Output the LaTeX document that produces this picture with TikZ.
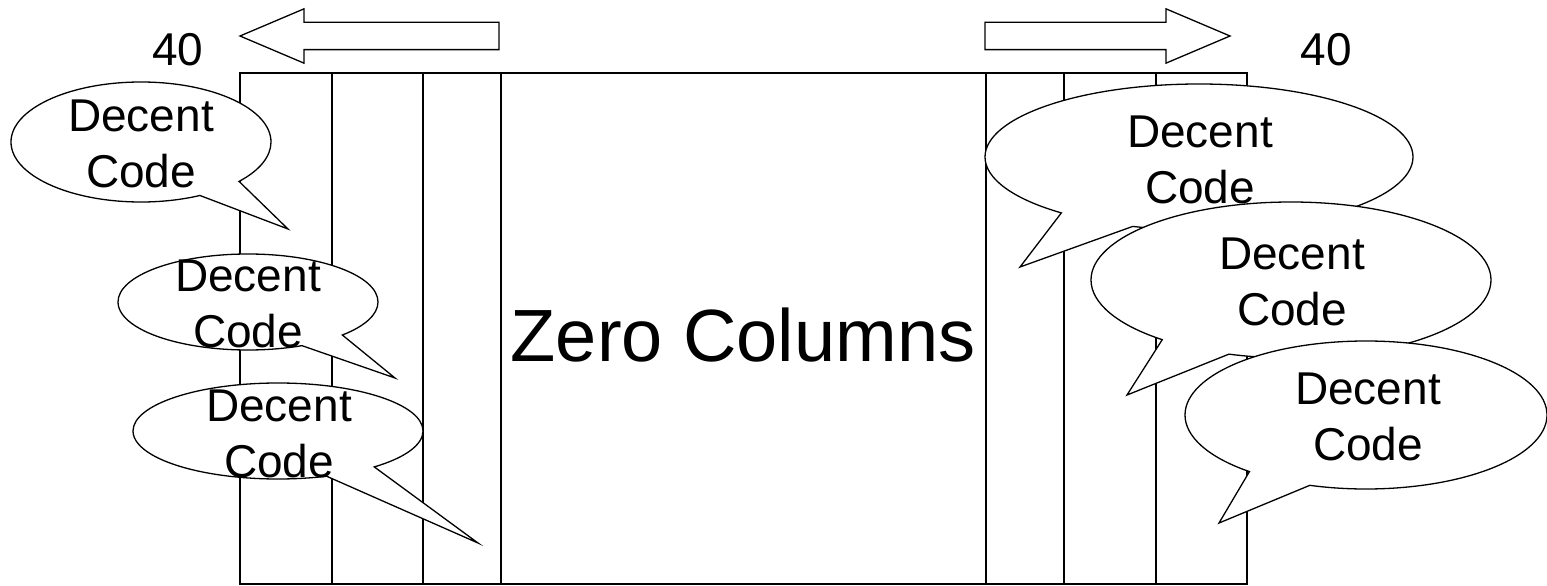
\documentclass[tikz,border=0pt]{standalone}
\usepackage{fontspec}
\setmainfont{Liberation Sans}
\usetikzlibrary{shapes.callouts, shapes.arrows}

\begin{document}
\begin{tikzpicture}[
          x=1pt, y=-1pt,
          font=\fontsize{46pt}{56pt}\selectfont,
          frame/.style={draw, line width=1.3pt},
          bubble/.style={ellipse callout, draw, fill=white, line width=1.3pt, inner sep=0pt, outer sep=0pt, callout pointer arc=22},
          bubble_text/.style={align=center, inner sep=0pt},
          big_arrow/.style={single arrow, draw, line width=1.3pt, inner sep=13pt, outer sep=0pt, minimum width=53pt, single arrow head extend=13.5pt, single arrow tip angle=46}
      ]
          \useasboundingbox (0,0) rectangle (1547,586);

          % Spalten
          \draw[frame] (240,73) rectangle (1247,584);
          \foreach \x in {332,423,501,986,1064,1156}
              \draw[frame] (\x,73) -- (\x,584);
          \node[inner sep=0pt, font=\fontsize{74pt}{80pt}\selectfont] (zero) at (743,335) {Zero Columns};

          % Pfeile oben
          \node[big_arrow, shape border rotate=180, minimum height=259pt, anchor=tip] (arr_left) at (240,36) {};
          \node[big_arrow, minimum height=245pt, anchor=tip] (arr_right) at (1230,36) {};
          \node[inner sep=0pt] (num_left) at (178,50) {40};
          \node[inner sep=0pt] (num_right) at (1326,50) {40};

          % Blasen links
          \node[bubble, minimum width=260pt, minimum height=120pt, callout absolute pointer={(288,229)}] (b1) at (141,142) {};
          \node[bubble_text] (t1) at (141,144) {Decent\\Code};
          \node[bubble, minimum width=260pt, minimum height=96pt, callout absolute pointer={(395,378)}] (b2) at (248,302) {};
          \node[bubble_text] (t2) at (248,304) {Decent\\Code};
          \node[bubble, minimum width=290pt, minimum height=96pt, callout absolute pointer={(478,543)}] (b3) at (278,431) {};
          \node[bubble_text] (t3) at (279,434) {Decent\\Code};

          % Blasen rechts
          \node[bubble, minimum width=428pt, minimum height=146pt, callout absolute pointer={(1020,267)}] (b4) at (1199,157) {};
          \node[bubble_text] (t4) at (1200,160) {Decent\\Code};
          \node[bubble, minimum width=400pt, minimum height=156pt, callout absolute pointer={(1127,395)}] (b5) at (1291,280) {};
          \node[bubble_text] (t5) at (1292,282) {Decent\\Code};
          \node[bubble, minimum width=362pt, minimum height=148pt, callout absolute pointer={(1219,523)}] (b6) at (1366,415) {};
          \node[bubble_text] (t6) at (1368,417) {Decent\\Code};
      \end{tikzpicture}
\end{document}
